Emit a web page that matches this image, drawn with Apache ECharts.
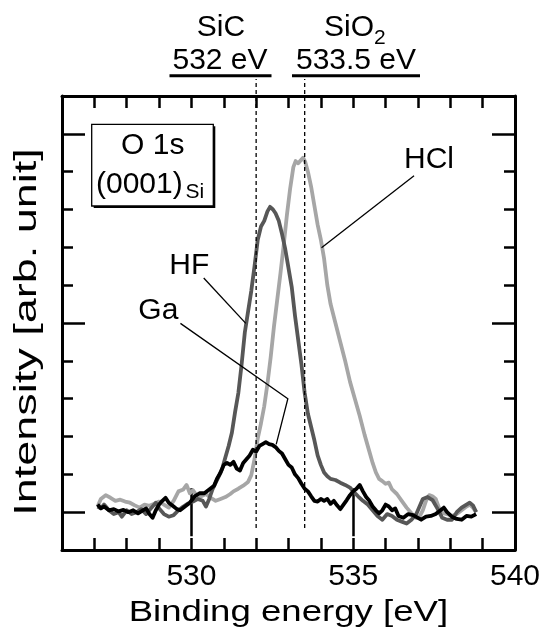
<!DOCTYPE html>
<html>
<head>
<meta charset="utf-8">
<script src="https://cdn.jsdelivr.net/npm/echarts@6/dist/echarts.min.js"></script>
<style>
  html, body { margin: 0; padding: 0; background: #fff; }
  #chart { width: 545px; height: 635px; }
</style>
</head>
<body>
<div id="chart"></div>
<script>
// O 1s spectra: [binding energy (eV), intensity (arb. unit)]
const hclSpectrum = [
  [527.1, 0.15], [527.2, 0.35], [527.35, 0.45], [527.5, 0.38], [527.65, 0.3], [527.8, 0.33],
  [527.95, 0.28], [528.1, 0.25], [528.25, 0.18], [528.4, 0.12], [528.55, 0.2], [528.7, 0.17],
  [528.85, 0.22], [529.0, 0.28], [529.15, 0.2], [529.3, 0.12], [529.45, 0.3], [529.6, 0.55],
  [529.75, 0.6], [529.85, 0.72], [529.95, 0.5], [530.05, 0.58], [530.15, 0.45], [530.3, 0.42],
  [530.45, 0.48], [530.6, 0.38], [530.75, 0.3], [530.9, 0.35], [531.05, 0.4], [531.2, 0.48],
  [531.3, 0.55], [531.45, 0.62], [531.6, 0.7], [531.75, 0.8], [531.85, 0.98], [531.95, 1.4],
  [532.05, 1.95], [532.15, 2.35], [532.25, 2.8], [532.35, 3.4], [532.45, 4.1], [532.55, 4.9],
  [532.65, 5.6], [532.75, 6.3], [532.85, 7.05], [532.95, 7.85], [533.05, 8.55], [533.15, 9.12],
  [533.22, 9.28], [533.3, 9.22], [533.38, 9.3], [533.45, 9.37], [533.52, 9.25], [533.6, 9.0],
  [533.7, 8.6], [533.8, 8.1], [533.9, 7.6], [534.0, 7.2], [534.1, 6.7], [534.2, 6.0],
  [534.3, 5.5], [534.45, 5.0], [534.6, 4.5], [534.75, 4.0], [534.9, 3.45], [535.05, 3.0],
  [535.2, 2.55], [535.35, 2.05], [535.5, 1.6], [535.6, 1.3], [535.7, 1.05], [535.8, 0.88],
  [535.9, 0.82], [536.0, 0.75], [536.1, 0.78], [536.2, 0.6], [536.35, 0.48], [536.5, 0.3],
  [536.65, 0.12], [536.8, -0.03], [536.95, -0.15], [537.05, -0.12], [537.15, 0.05], [537.25, 0.3],
  [537.35, 0.45], [537.45, 0.42], [537.55, 0.35], [537.65, 0.12], [537.75, -0.02], [537.9, -0.05],
  [538.05, -0.1], [538.2, -0.05], [538.35, 0.05], [538.5, 0.15], [538.6, 0.2], [538.7, 0.12],
  [538.8, 0.0]
];

const hfSpectrum = [
  [527.1, 0.15], [527.2, 0.1], [527.3, 0.2], [527.45, 0.05], [527.6, -0.05], [527.75, 0.0],
  [527.85, -0.12], [528.0, 0.05], [528.15, -0.05], [528.3, 0.0], [528.45, 0.08], [528.6, -0.05],
  [528.75, 0.1], [528.9, 0.25], [529.0, 0.1], [529.15, -0.05], [529.3, -0.12], [529.45, -0.08],
  [529.6, 0.05], [529.75, 0.15], [529.9, 0.23], [530.05, 0.28], [530.2, 0.35], [530.35, 0.3],
  [530.45, 0.15], [530.55, 0.35], [530.65, 0.6], [530.75, 0.78], [530.85, 0.95], [530.95, 1.15],
  [531.05, 1.45], [531.15, 1.75], [531.25, 2.1], [531.35, 2.65], [531.45, 3.15], [531.55, 3.9],
  [531.65, 4.75], [531.75, 5.3], [531.85, 5.85], [531.95, 6.5], [532.05, 7.2], [532.15, 7.55],
  [532.25, 7.7], [532.35, 7.95], [532.43, 8.07], [532.52, 8.0], [532.6, 7.9], [532.7, 7.7],
  [532.8, 7.35], [532.9, 6.95], [533.0, 6.45], [533.1, 5.95], [533.2, 5.2], [533.3, 4.55],
  [533.4, 3.9], [533.5, 3.15], [533.6, 2.6], [533.7, 2.25], [533.8, 1.9], [533.9, 1.5],
  [534.0, 1.25], [534.1, 1.05], [534.2, 0.95], [534.3, 0.88], [534.45, 0.85], [534.6, 0.78],
  [534.75, 0.72], [534.9, 0.65], [535.0, 0.55], [535.15, 0.42], [535.3, 0.3], [535.45, 0.2],
  [535.6, 0.05], [535.75, -0.1], [535.9, -0.2], [536.05, -0.05], [536.2, -0.1], [536.35, -0.2],
  [536.5, -0.25], [536.65, -0.3], [536.8, -0.2], [536.95, -0.05], [537.05, 0.15], [537.15, 0.35],
  [537.3, 0.4], [537.45, 0.32], [537.6, 0.1], [537.75, -0.15], [537.9, -0.2], [538.05, -0.2],
  [538.2, 0.0], [538.35, 0.12], [538.5, 0.2], [538.6, 0.25], [538.7, 0.18], [538.8, 0.0]
];

const gaSpectrum = [
  [527.1, 0.2], [527.2, 0.1], [527.3, 0.15], [527.45, 0.05], [527.6, 0.08], [527.75, 0.02],
  [527.9, 0.06], [528.05, 0.0], [528.2, 0.05], [528.35, -0.03], [528.5, 0.05], [528.6, 0.1],
  [528.7, -0.05], [528.8, -0.15], [528.9, 0.05], [529.0, 0.2], [529.1, 0.3], [529.2, 0.38],
  [529.3, 0.25], [529.45, 0.15], [529.55, 0.08], [529.65, 0.05], [529.8, 0.15], [529.95, 0.25],
  [530.1, 0.42], [530.25, 0.5], [530.4, 0.5], [530.55, 0.6], [530.7, 0.7], [530.8, 0.9],
  [530.9, 1.05], [531.0, 1.25], [531.1, 1.3], [531.2, 1.25], [531.3, 1.33], [531.4, 1.15],
  [531.5, 1.1], [531.6, 1.3], [531.7, 1.4], [531.8, 1.5], [531.9, 1.65], [532.0, 1.6],
  [532.1, 1.75], [532.2, 1.8], [532.3, 1.85], [532.4, 1.8], [532.5, 1.78], [532.6, 1.72],
  [532.7, 1.62], [532.8, 1.55], [532.9, 1.4], [533.0, 1.25], [533.1, 1.18], [533.2, 1.0],
  [533.3, 0.9], [533.4, 0.75], [533.5, 0.62], [533.6, 0.55], [533.7, 0.42], [533.8, 0.3],
  [533.9, 0.28], [534.0, 0.35], [534.1, 0.3], [534.2, 0.35], [534.3, 0.22], [534.4, 0.3],
  [534.5, 0.18], [534.6, 0.08], [534.7, 0.2], [534.8, 0.32], [534.9, 0.45], [535.0, 0.55],
  [535.1, 0.62], [535.2, 0.72], [535.3, 0.55], [535.4, 0.4], [535.5, 0.3], [535.6, 0.15],
  [535.7, 0.05], [535.8, -0.03], [535.9, 0.05], [536.0, 0.2], [536.1, 0.15], [536.2, 0.05],
  [536.3, 0.1], [536.4, -0.1], [536.55, -0.15], [536.7, -0.05], [536.85, -0.08], [537.0, -0.15],
  [537.1, -0.2], [537.25, -0.12], [537.4, -0.1], [537.55, -0.05], [537.7, 0.05], [537.8, 0.12],
  [537.9, 0.0], [538.05, -0.12], [538.2, -0.18], [538.35, -0.2], [538.5, -0.1], [538.65, -0.12],
  [538.8, -0.05]
];

// Reference binding energies (eV)
const sicEnergy = 532;
const sio2Energy = 533.5;

// Axis ranges and ticks
const energyRange = [526, 540];
const intensityRange = [-1, 11];
const energyMinorStep = 1;
const intensityMinorStep = 1;
const energyMajorTicks = [530, 535];
const energyTickLabels = [530, 535, 540];
const intensityMajorTicks = [0, 5, 10];

const FONT = 'Liberation Sans, Arial, Helvetica, sans-serif';
const chart = echarts.init(document.getElementById('chart'), null, { renderer: 'canvas' });

const frameLine = { show: true, onZero: false, lineStyle: { color: '#000', width: 3 } };
const tickStyle = { color: '#000', width: 2.5 };

function xMinor(position) {
  return {
    type: 'value', position: position, min: energyRange[0], max: energyRange[1],
    interval: energyMinorStep, axisLine: frameLine,
    axisTick: { show: true, inside: true, length: 12, lineStyle: tickStyle },
    axisLabel: { show: false }, splitLine: { show: false }
  };
}
function xMajor(position, withLabels) {
  return {
    type: 'value', position: position, min: energyRange[0], max: energyRange[1],
    axisLine: { show: false },
    axisTick: { show: true, inside: true, length: 24, lineStyle: tickStyle, customValues: energyMajorTicks },
    axisLabel: withLabels ? {
      show: true, color: '#000', fontSize: 30, fontFamily: FONT, margin: 12,
      customValues: energyTickLabels
    } : { show: false },
    splitLine: { show: false }
  };
}
function yMinor(position) {
  return {
    type: 'value', position: position, min: intensityRange[0], max: intensityRange[1],
    interval: intensityMinorStep, axisLine: frameLine,
    axisTick: { show: true, inside: true, length: 11, lineStyle: tickStyle },
    axisLabel: { show: false }, splitLine: { show: false }
  };
}
function yMajor(position) {
  return {
    type: 'value', position: position, min: intensityRange[0], max: intensityRange[1],
    axisLine: { show: false },
    axisTick: { show: true, inside: true, length: 23, lineStyle: tickStyle, customValues: intensityMajorTicks },
    axisLabel: { show: false }, splitLine: { show: false }
  };
}

const refLineStyle = { color: '#000', width: 1.3, type: [4, 3] };
function spectrum(name, data, color, z) {
  return {
    name: name, type: 'line', data: data, showSymbol: false, silent: true,
    lineStyle: { color: color, width: 3.8, join: 'round' }, z: z
  };
}
function refLine(name, energy) {
  return {
    name: name, type: 'line', showSymbol: false, silent: true, clip: false,
    data: [[energy, -0.42], [energy, 11.45]], lineStyle: refLineStyle, z: 5
  };
}

chart.setOption({
  animation: false,
  backgroundColor: '#fff',
  grid: { left: 62, right: 30, top: 96, bottom: 85, containLabel: false },
  xAxis: [xMajor('bottom', true), xMinor('bottom'), xMajor('top', false), xMinor('top')],
  yAxis: [yMajor('left'), yMinor('left'), yMajor('right'), yMinor('right')],
  series: [
    spectrum('HCl', hclSpectrum, '#a6a6a6', 2),
    spectrum('HF', hfSpectrum, '#575757', 3),
    spectrum('Ga', gaSpectrum, '#000', 4),
    refLine('SiC', sicEnergy),
    refLine('SiO2', sio2Energy)
  ]
});

// Annotations: curve labels with leader lines (leader endpoints in data units)
const leaders = [
  [[536.88, 8.89], [534.02, 6.99]],
  [[530.38, 6.19], [531.68, 4.99]],
  [[529.66, 4.99], [532.98, 3.0], [532.62, 1.79]]
];
function toPx(p) { return chart.convertToPixel({ xAxisIndex: 0, yAxisIndex: 0 }, p); }

function label(text, x, y, size, align, extra) {
  return Object.assign({
    type: 'text', x: x, y: y, z: 20, silent: true,
    style: { text: text, fill: '#000', font: size + 'px ' + FONT, align: align || 'left', verticalAlign: 'middle' }
  }, extra || {});
}

const graphics = [
  // axis titles
  label('Binding energy [eV]', 288.4, 613, 30, 'center', { scaleX: 1.22 }),
  label('Intensity [arb. unit]', 27, 332, 31, 'center', { rotation: Math.PI / 2, scaleX: 1.45 }),
  // reference labels above the frame
  label('SiC', 221, 28, 30, 'center'),
  label('532 eV', 220, 60.5, 30, 'center'),
  label('SiO', 324, 28, 30, 'left'),
  label('2', 374, 38, 21, 'left'),
  label('533.5 eV', 356, 60.5, 30, 'center'),
  { type: 'line', silent: true, z: 20, shape: { x1: 169.5, y1: 75.7, x2: 271.5, y2: 75.7 }, style: { stroke: '#000', lineWidth: 3 } },
  { type: 'line', silent: true, z: 20, shape: { x1: 292, y1: 75.7, x2: 420, y2: 75.7 }, style: { stroke: '#000', lineWidth: 3 } },
  // sample box
  { type: 'rect', silent: true, z: 18, shape: { x: 93.7, y: 126.3, width: 121.6, height: 81.7 }, style: { fill: '#000' } },
  { type: 'rect', silent: true, z: 19, shape: { x: 91.7, y: 124.3, width: 121.6, height: 81.7 }, style: { fill: '#fff', stroke: '#000', lineWidth: 1.3 } },
  label('O 1s', 152.7, 145.5, 30, 'center'),
  label('(0001)', 96, 185, 30, 'left'),
  label('Si', 185.5, 192.5, 21, 'left'),
  // curve labels
  label('HCl', 404, 160, 30, 'left'),
  label('HF', 169.3, 266, 30, 'left'),
  label('Ga', 138.3, 311, 30, 'left')
];
leaders.forEach(function (pts) {
  graphics.push({
    type: 'polyline', silent: true, z: 20,
    shape: { points: pts.map(toPx) },
    style: { stroke: '#000', lineWidth: 1.3, fill: null }
  });
});
chart.setOption({ graphic: graphics });
</script>
</body>
</html>
